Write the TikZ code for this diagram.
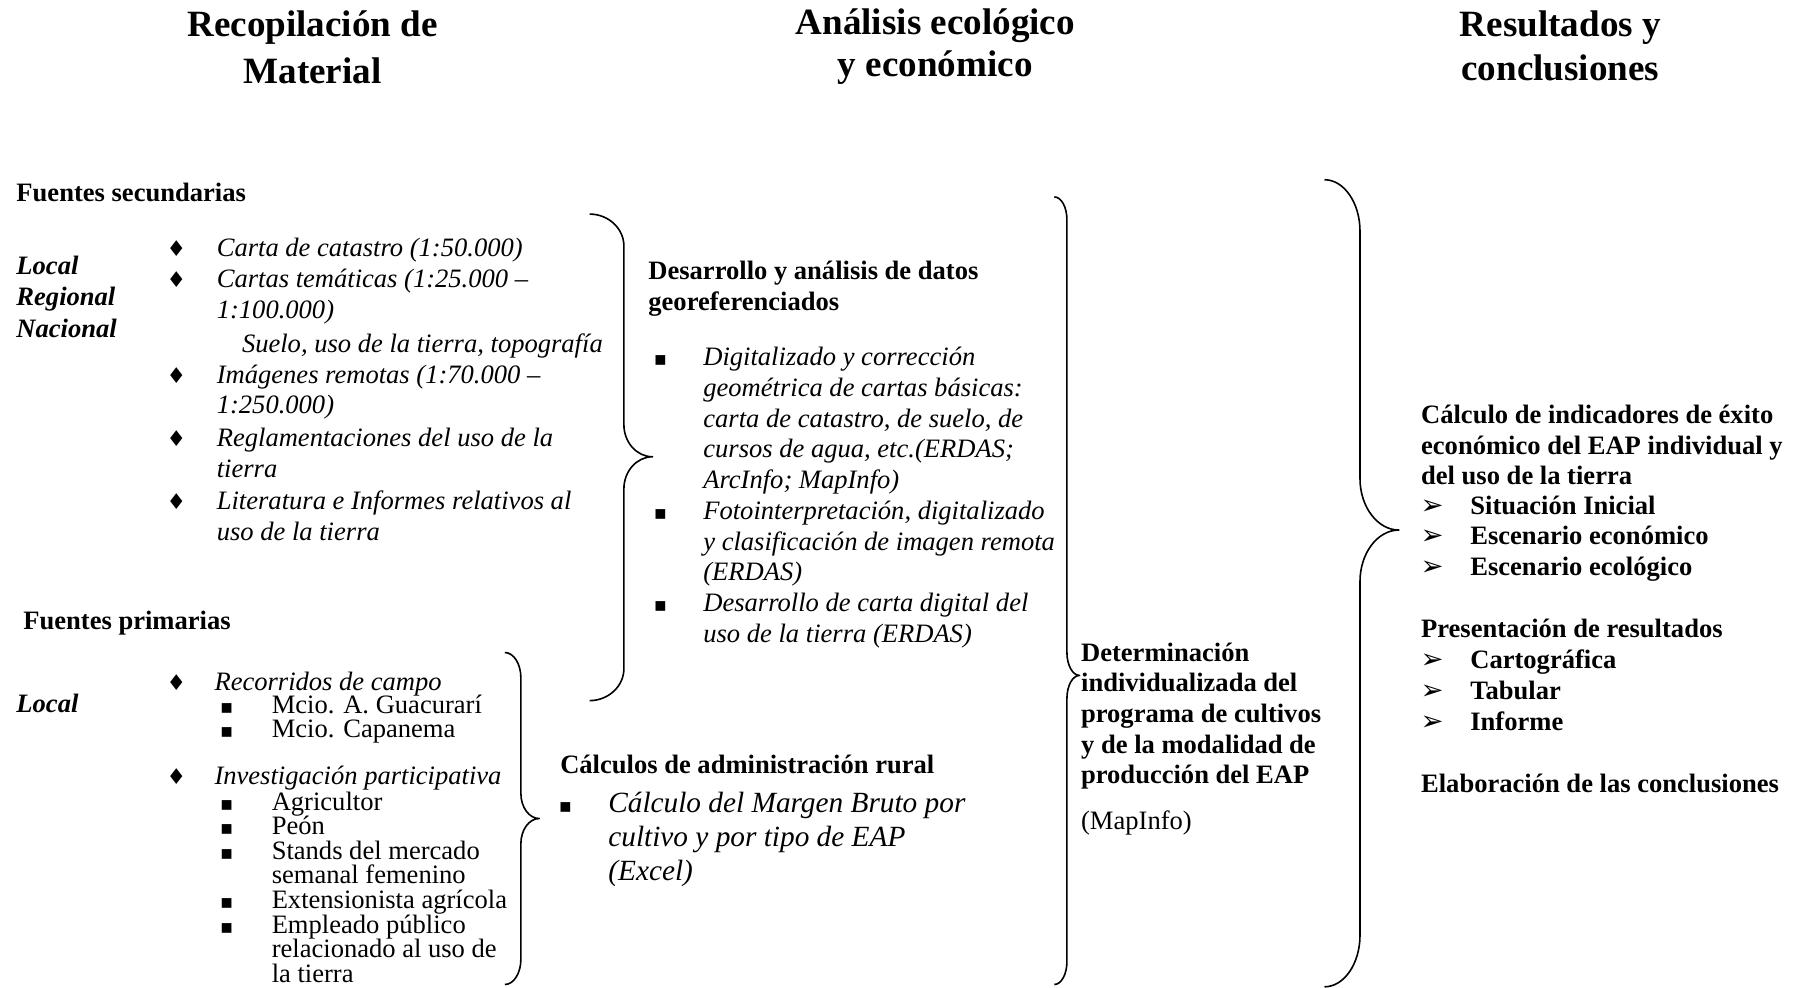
\documentclass[tikz,border=0pt]{standalone}
\usepackage{fontspec}
\setmainfont{Liberation Serif}
\newfontfamily\symfont{DejaVu Sans}
\newcommand\drawbrace[7]{%
 \draw[bracestyle] (#1,#2) .. controls ({#1+0.55*(#3-#1)},#2) and (#3,{#2+0.45*#7}) .. (#3,{#2+#7})
  -- (#3,{#5-#7}) .. controls (#3,{#5-0.45*#7}) and ({#3+0.45*(#4-#3)},#5) .. (#4,#5)
  .. controls ({#3+0.45*(#4-#3)},#5) and (#3,{#5+0.45*#7}) .. (#3,{#5+#7})
  -- (#3,{#6-#7}) .. controls (#3,{#6-0.45*#7}) and ({#1+0.55*(#3-#1)},#6) .. (#1,#6);}
\tikzset{
 bracestyle/.style={line width=0.7pt, line join=round},
 txt/.style={anchor=base west, inner sep=0pt, font=\fontsize{11.6}{13.5}\selectfont},
 bt/.style={txt, font=\fontsize{11.6}{13.5}\selectfont\bfseries},
 it/.style={txt, font=\fontsize{11.6}{13.5}\selectfont\itshape},
 itbig/.style={txt, font=\fontsize{12.8}{14.7}\selectfont\itshape},
 bit/.style={txt, font=\fontsize{11.6}{13.5}\selectfont\bfseries\itshape},
 head/.style={anchor=base, inner sep=0pt, font=\fontsize{16.2}{20}\selectfont\bfseries},
 dia/.style={anchor=base, inner sep=0pt, font=\symfont\fontsize{9.5}{10}\selectfont},
 sq/.style={anchor=base, inner sep=0pt, font=\symfont\fontsize{8.5}{10}\selectfont},
 arr/.style={anchor=base, inner sep=0pt, font=\symfont\fontsize{12}{13}\selectfont},
}
\begin{document}
\begin{tikzpicture}[x=0.5pt,y=-0.5pt]
\useasboundingbox (0,0) rectangle (1568,863);
% headings
\node[head] (h1a) at (273,32) {Recopilación de};
\node[head] (h1b) at (273,73) {Material};
\node[head] (h2a) at (817,30) {Análisis ecológico};
\node[head] (h2b) at (817,67) {y económico};
\node[head] (h3a) at (1363,32) {Resultados y};
\node[head] (h3b) at (1363,70) {conclusiones};
% fuentes secundarias
\node[bt] (fs) at (14,176) {Fuentes secundarias};
\node[bit] (l1) at (14,240) {Local};
\node[bit] (l2) at (14,267) {Regional};
\node[bit] (l3) at (14,295) {Nacional};
\node[dia] (d1) at (154,224) {♦};
\node[dia] (d2) at (154,251) {♦};
\node[dia] (d3) at (154,335) {♦};
\node[dia] (d4) at (154,390) {♦};
\node[dia] (d5) at (154,445) {♦};
\node[it] (s1) at (189,224) {Carta de catastro (1:50.000)};
\node[it] (s2) at (189,251) {Cartas temáticas (1:25.000 –};
\node[it] (s3) at (189,278) {1:100.000)};
\node[it] (s4) at (211,308) {Suelo, uso de la tierra, topografía};
\node[it] (s5) at (189,335) {Imágenes remotas (1:70.000 –};
\node[it] (s6) at (189,361) {1:250.000)};
\node[it] (s7) at (189,390) {Reglamentaciones del uso de la};
\node[it] (s8) at (189,417) {tierra};
\node[it] (s9) at (189,445) {Literatura e Informes relativos al};
\node[it] (s10) at (189,472) {uso de la tierra};
% fuentes primarias
\node[bt] (fp) at (20,550) {Fuentes primarias};
\node[bit] (l4) at (14,622) {Local};
\node[dia] (d6) at (154,603) {♦};
\node[dia] (d7) at (154,685) {♦};
\node[it] (p1) at (187,603) {Recorridos de campo};
\node[sq] (q1) at (198,623) {▪};
\node[sq] (q2) at (198,644) {▪};
\node[txt] (p2) at (237,623) {Mcio. A. Guacurarí};
\node[txt] (p3) at (237,644) {Mcio. Capanema};
\node[it] (p4) at (187,685) {Investigación participativa};
\node[sq] (q3) at (198,708) {▪};
\node[sq] (q4) at (198,729) {▪};
\node[sq] (q5) at (198,751) {▪};
\node[sq] (q6) at (198,794) {▪};
\node[sq] (q7) at (198,815) {▪};
\node[txt] (p5) at (237,708) {Agricultor};
\node[txt] (p6) at (237,729) {Peón};
\node[txt] (p7) at (237,751) {Stands del mercado};
\node[txt] (p8) at (237,772) {semanal femenino};
\node[txt] (p9) at (237,794) {Extensionista agrícola};
\node[txt] (p10) at (237,815) {Empleado público};
\node[txt] (p11) at (237,836) {relacionado al uso de};
\node[txt] (p12) at (237,858) {la tierra};
% desarrollo
\node[bt] (m1) at (566,244) {Desarrollo y análisis de datos};
\node[bt] (m2) at (566,271) {georeferenciados};
\node[sq] (q8) at (577,319) {▪};
\node[sq] (q9) at (577,454) {▪};
\node[sq] (q10) at (577,534) {▪};
\node[it] (m3) at (614,319) {Digitalizado y corrección};
\node[it] (m4) at (614,346) {geométrica de cartas básicas:};
\node[it] (m5) at (614,373) {carta de catastro, de suelo, de};
\node[it] (m6) at (614,400) {cursos de agua, etc.(ERDAS;};
\node[it] (m7) at (614,427) {ArcInfo; MapInfo)};
\node[it] (m8) at (614,454) {Fotointerpretación, digitalizado};
\node[it] (m9) at (614,481) {y clasificación de imagen remota};
\node[it] (m10) at (614,507) {(ERDAS)};
\node[it] (m11) at (614,534) {Desarrollo de carta digital del};
\node[it] (m12) at (614,561) {uso de la tierra (ERDAS)};
% calculos
\node[bt] (c1) at (489,676) {Cálculos de administración rural};
\node[sq] (q11) at (494,710) {▪};
\node[itbig] (c2) at (531,710) {Cálculo del Margen Bruto por};
\node[itbig] (c3) at (531,739) {cultivo y por tipo de EAP};
\node[itbig] (c4) at (531,769) {(Excel)};
% determinacion
\node[bt] (e1) at (944,578) {Determinación};
\node[bt] (e2) at (944,604) {individualizada del};
\node[bt] (e3) at (944,631) {programa de cultivos};
\node[bt] (e4) at (944,658) {y de la modalidad de};
\node[bt] (e5) at (944,684) {producción del EAP};
\node[txt] (e6) at (944,725) {(MapInfo)};
% resultados
\node[bt] (r1) at (1241,370) {Cálculo de indicadores de éxito};
\node[bt] (r2) at (1241,397) {económico del EAP individual y};
\node[bt] (r3) at (1241,423) {del uso de la tierra};
\node[arr] (a1) at (1251,449) {➢};
\node[arr] (a2) at (1251,476) {➢};
\node[arr] (a3) at (1251,503) {➢};
\node[bt] (r4) at (1284,449) {Situación Inicial};
\node[bt] (r5) at (1284,476) {Escenario económico};
\node[bt] (r6) at (1284,503) {Escenario ecológico};
\node[bt] (r7) at (1241,557) {Presentación de resultados};
\node[arr] (a4) at (1251,584) {➢};
\node[arr] (a5) at (1251,611) {➢};
\node[arr] (a6) at (1251,638) {➢};
\node[bt] (r8) at (1284,584) {Cartográfica};
\node[bt] (r9) at (1284,611) {Tabular};
\node[bt] (r10) at (1284,638) {Informe};
\node[bt] (r11) at (1241,692) {Elaboración de las conclusiones};
% braces
\drawbrace{515}{187}{545}{570}{399}{612}{28}
\drawbrace{441}{570}{455}{471}{715}{860}{22}
\drawbrace{921}{172}{932}{943}{590}{860}{20}
\drawbrace{1157}{157}{1188}{1222}{463}{862}{45}
\end{tikzpicture}
\end{document}
